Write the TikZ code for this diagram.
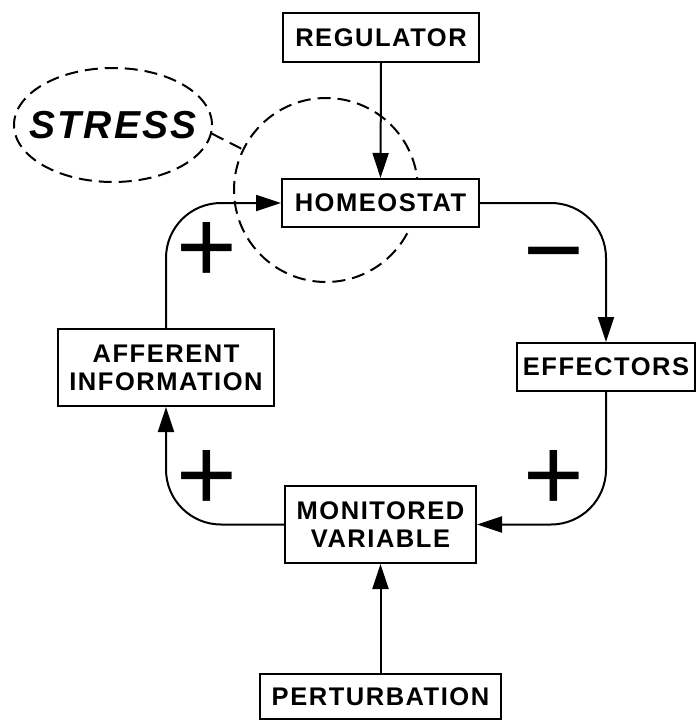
\documentclass[tikz,border=0pt]{standalone}
\usepackage{fontspec}
\setmainfont{Liberation Sans}
\newfontfamily\lbl[LetterSpace=6]{Liberation Sans}
\newfontfamily\sgn{Liberation Sans}
\usetikzlibrary{arrows.meta,shapes.geometric}
\begin{document}
\begin{tikzpicture}[x=1pt,y=-1pt,
  box/.style={draw,fill=white,line width=2pt,inner sep=0pt,align=center,
    font=\lbl\bfseries\fontsize{25.5}{28}\selectfont},
  conn/.style={line width=2pt,rounded corners=55pt},
  arr/.style={conn,-{Triangle[length=25pt,width=16pt]}},
  dsh/.style={draw,line width=2pt,dash pattern=on 13pt off 7pt},
  sign/.style={inner sep=0pt,anchor=base,font=\sgn\fontsize{104}{104}\selectfont}]
\useasboundingbox (0,0) rectangle (696,720);
\node[ellipse,dsh,minimum width=198pt,minimum height=114pt,inner ysep=0pt,inner xsep=-25pt,
  font=\lbl\bfseries\itshape\fontsize{39}{39}\selectfont] (str) at (113,125) {STRESS};
\node[circle,dsh,minimum size=184pt,inner sep=0pt] (circ) at (326,190) {};
\draw[dsh] (str.-5) -- (circ.154);
\node[box,minimum width=196pt,minimum height=49pt] (reg) at (381,37.5) {REGULATOR};
\node[box,minimum width=197pt,minimum height=48pt] (hom) at (380.5,203) {HOMEOSTAT};
\node[box,minimum width=216pt,minimum height=77pt] (aff) at (166,367.5) {AFFERENT\\INFORMATION};
\node[box,minimum width=178pt,minimum height=48pt] (eff) at (606,367) {EFFECTORS};
\node[box,minimum width=191pt,minimum height=77pt] (mon) at (380.5,524.5) {MONITORED\\VARIABLE};
\node[box,minimum width=241pt,minimum height=45pt] (per) at (380.5,696.5) {PERTURBATION};
\draw[arr] (reg.south) -- (hom.north);
\draw[arr] (aff.north) -- (aff.north |- hom.west) -- (hom.west);
\draw[arr] (hom.east) -- (eff.north |- hom.east) -- (eff.north);
\draw[arr] (eff.south) -- (eff.south |- mon.east) -- (mon.east);
\draw[arr] (mon.west) -- (aff.south |- mon.west) -- (aff.south);
\draw[arr] (per.north) -- (mon.south);
\node[sign] (p1) at (207,282) {+};
\node[sign] (m1) at (554,285) {\char"2212};
\node[sign] (p2) at (207,510) {+};
\node[sign] (p3) at (554,510) {+};
\end{tikzpicture}
\end{document}
